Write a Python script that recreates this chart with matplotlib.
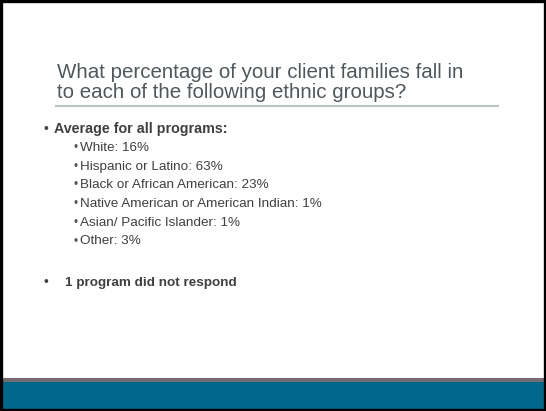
import matplotlib
matplotlib.use('Agg')
import matplotlib.pyplot as plt
from matplotlib.patches import Rectangle

plt.rcParams['font.family'] = ['Liberation Sans', 'DejaVu Sans']

# slide content
title_lines = ['What percentage of your client families fall in',
               'to each of the following ethnic groups?']
heading = 'Average for all programs:'
groups = ['White', 'Hispanic or Latino', 'Black or African American',
          'Native American or American Indian', 'Asian/ Pacific Islander', 'Other']
percent = [16, 63, 23, 1, 1, 3]
note = '1 program did not respond'

W, H = 546, 411
fig = plt.figure(figsize=(W / 100, H / 100), dpi=100)
ax = fig.add_axes([0, 0, 1, 1])
ax.set_xlim(0, W)
ax.set_ylim(H, 0)
ax.axis('off')

# footer bands
ax.add_patch(Rectangle((0, 377.5), W, 4.5, color='#726c70', lw=0))
ax.add_patch(Rectangle((0, 382), W, H - 382, color='#02678a', lw=0))
# black frame
ax.add_patch(Rectangle((1.2, 1.2), W - 2.4, H - 2.4, fill=False,
                       ec='black', lw=2.4))

# title
tcol = '#50585c'
ax.text(57, 77.5, title_lines[0], fontsize=14.8, color=tcol, va='baseline')
ax.text(57, 97.5, title_lines[1], fontsize=14.8, color=tcol, va='baseline')
ax.plot([56, 498], [106.5, 106.5], color='#bfc4c6', lw=1.6)

# bullets
bcol = '#404040'
ax.text(45.5, 132.5, '\u2022', fontsize=10, color=bcol, va='baseline', ha='center')
ax.text(53.5, 132.5, heading, fontsize=10.3, weight='bold', color=bcol,
        va='baseline')

y = 151
for g, p in zip(groups, percent):
    ax.text(75.8, y, '\u2022', fontsize=8.5, color='#555555', va='baseline',
            ha='center')
    ax.text(80, y, f'{g}: {p}%', fontsize=9.7, color=bcol, va='baseline')
    y += 18.7

ax.text(46, 286, '\u2022', fontsize=10, color=bcol, va='baseline', ha='center')
ax.text(65, 286, note, fontsize=9.7, weight='bold', color=bcol, va='baseline')

fig.savefig('out.png', dpi=100)
